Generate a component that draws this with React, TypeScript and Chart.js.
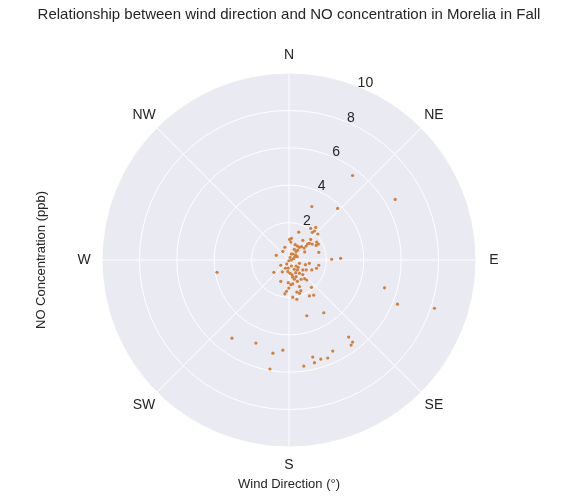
import React, { useEffect, useRef } from "react";
import { Chart, registerables } from "chart.js";
Chart.register(...registerables);

// East / North components (ppb) of NO concentration along wind direction
const noEast = [3.40,5.68,2.60,1.22,7.78,5.80,5.11,-3.85,-3.05,-1.77,-0.86,-0.33,-1.02,0.79,1.27,1.36,1.70,2.07,2.34,3.19,3.40,3.32,0.95,1.86,2.28,2.76,
0.52,1.16,1.43,1.36,1.25,1.54,0.13,0.03,0.10,0.74,1.16,0.99,1.09,1.24,1.48,1.57,1.45,0.33,0.45,0.56,0.67,0.81,0.92,-0.22,-0.33,0.28,0.38,0.47,0.20,0.31,0.44,0.84,1.59,-0.68,0.06,-0.01,0.13,-0.12,-0.04,0.13,0.38,0.56,0.88,1.09,1.59,1.22,1.47,0.28,0.45,0.06,0.20,0.38,0.74,0.56,0.84,0.95,-0.44,-0.04,0.20,0.45,1.20,0.10,0.56,0.63,-0.01,-0.13,-0.22,0.20,0.42,0.42,1.09,1.32,0.56,0.29,-0.06,-0.19,0.49,0.36,0.17,0.65,0.24,0.35,0.12,0.74,0.92,-0.36,-0.81,-0.44];
const noNorth = [4.52,3.24,2.76,2.86,-2.58,-2.36,-1.49,-0.66,-4.18,-4.44,-4.98,-4.82,-5.83,-5.67,-5.19,-5.49,-5.30,-5.24,-4.87,-4.12,-4.39,-4.55,-2.98,-2.82,0.04,0.09,
1.49,1.69,1.74,1.55,1.48,1.39,1.16,1.10,0.96,1.05,1.10,0.87,0.89,0.85,0.96,0.85,0.78,0.82,0.75,0.68,0.71,0.64,0.75,0.68,0.46,0.57,0.46,0.53,0.32,0.18,0.18,0.43,0.41,0.25,0.14,-0.04,0,-0.21,-0.43,-0.32,-0.32,-0.18,-0.25,-0.18,-0.28,-0.53,-0.44,-0.50,-0.53,-0.71,-0.92,-0.89,-0.78,-0.71,-1.00,-1.07,-0.28,-1.21,-1.28,-1.14,-1.46,-1.32,-1.42,-1.64,-1.50,-1.67,-1.81,-1.99,-2.10,-1.71,-1.92,-1.88,-1.78,-1.03,-0.62,-0.44,-0.39,-0.68,-0.80,-1.03,0.07,0.28,0.32,-0.53,-0.53,-0.64,-0.66,-1.14];
const radialTicks = [2, 4, 6, 8, 10];
const directions = ["N", "NE", "E", "SE", "S", "SW", "W", "NW"];
const rMax = 10;

export default function App() {
  const ref = useRef<HTMLCanvasElement>(null);
  useEffect(() => {
    const font = "Arial, 'Liberation Sans', sans-serif";
    const polarGrid = {
      id: "polarGrid",
      beforeDatasetsDraw(chart: any) {
        const ctx = chart.ctx;
        const xs = chart.scales.x, ys = chart.scales.y;
        const cx = xs.getPixelForValue(0), cy = ys.getPixelForValue(0);
        const R = xs.getPixelForValue(rMax) - cx;
        ctx.save();
        ctx.fillStyle = "#EAEAF2";
        ctx.beginPath(); ctx.arc(cx, cy, R, 0, Math.PI * 2); ctx.fill();
        ctx.strokeStyle = "#fff"; ctx.lineWidth = 1;
        radialTicks.forEach((t) => {
          ctx.beginPath(); ctx.arc(cx, cy, (t / rMax) * R, 0, Math.PI * 2); ctx.stroke();
        });
        directions.forEach((d, i) => {
          const a = (i * 45 * Math.PI) / 180;
          ctx.beginPath(); ctx.moveTo(cx, cy);
          ctx.lineTo(cx + R * Math.sin(a), cy - R * Math.cos(a)); ctx.stroke();
        });
        ctx.fillStyle = "#262626";
        ctx.font = `14px ${font}`;
        ctx.textAlign = "center"; ctx.textBaseline = "middle";
        directions.forEach((d, i) => {
          const a = (i * 45 * Math.PI) / 180;
          const rr = R + 18;
          ctx.fillText(d, cx + rr * Math.sin(a), cy - rr * Math.cos(a));
        });
        const ta = (23 * Math.PI) / 180;
        radialTicks.forEach((t) => {
          const rr = (t / rMax) * R + 6;
          ctx.fillText(String(t), cx + rr * Math.sin(ta) + 1, cy - rr * Math.cos(ta) + 1);
        });
        ctx.font = `15px ${font}`;
        ctx.fillText("Relationship between wind direction and NO concentration in Morelia in Fall", 289, 15);
        ctx.font = `13px ${font}`;
        ctx.fillText("Wind Direction (°)", cx, 484);
        ctx.translate(41, cy); ctx.rotate(-Math.PI / 2);
        ctx.fillText("NO Concentration (ppb)", 0, 0);
        ctx.restore();
      },
    };
    const chart = new Chart(ref.current!, {
      type: "scatter",
      data: {
        datasets: [{
          data: noEast.map((e, i) => ({ x: e, y: noNorth[i] })),
          backgroundColor: "#D3803A", borderColor: "#D3803A",
          pointRadius: 1.6, borderWidth: 0,
        }],
      },
      options: {
        animation: false, responsive: false,
        layout: { padding: { left: 102, right: 101, top: 73, bottom: 54 } },
        scales: {
          x: { type: "linear", min: -rMax, max: rMax, display: false },
          y: { type: "linear", min: -rMax, max: rMax, display: false },
        },
        plugins: { legend: { display: false }, tooltip: { enabled: false } },
      },
      plugins: [polarGrid],
    });
    return () => chart.destroy();
  }, []);
  return <canvas ref={ref} width={577} height={501} style={{ position: "absolute", left: 0, top: 0 }} />;
}
